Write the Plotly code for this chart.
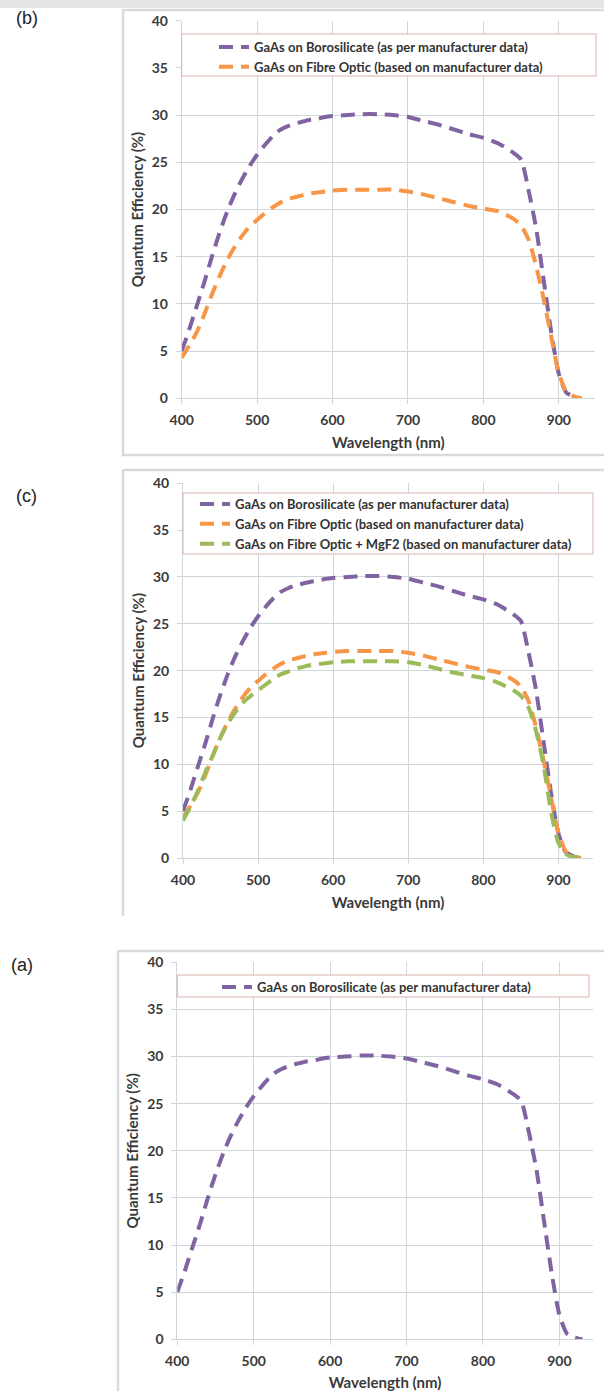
import plotly.graph_objects as go

# ---------------- data ----------------
wavelength = [400, 410, 420, 430, 440, 450, 460, 470, 480, 490, 500, 510, 520, 530, 540,
              550, 560, 570, 580, 590, 600, 620, 640, 660, 680, 700, 720, 740, 760, 780,
              800, 820, 840, 850, 860, 870, 880, 890, 900, 910, 920, 930]

qe_borosilicate = [5.0, 7.3, 9.8, 12.3, 15.0, 17.5, 19.7, 21.6, 23.2, 24.6, 25.8, 26.8, 27.7, 28.4, 28.8,
                   29.1, 29.3, 29.5, 29.6, 29.8, 29.9, 30.0, 30.1, 30.1, 30.0, 29.8, 29.4, 29.0, 28.5, 28.0,
                   27.6, 27.0, 26.0, 25.3, 22.0, 18.0, 12.5, 7.0, 2.6, 0.6, 0.2, 0.0]

qe_fibre = [4.3, 5.6, 7.0, 8.9, 11.0, 12.9, 14.6, 16.0, 17.2, 18.2, 18.9, 19.6, 20.2, 20.7, 21.1,
            21.3, 21.5, 21.7, 21.8, 21.9, 22.0, 22.1, 22.1, 22.1, 22.1, 21.9, 21.6, 21.2, 20.8, 20.4,
            20.1, 19.8, 19.0, 18.3, 16.8, 14.0, 10.5, 6.5, 2.7, 0.7, 0.2, 0.0]

qe_fibre_mgf2 = [4.0, 5.5, 7.2, 9.2, 11.0, 12.9, 14.4, 15.6, 16.6, 17.3, 17.9, 18.5, 19.1, 19.6, 19.9,
                 20.2, 20.4, 20.6, 20.7, 20.8, 20.9, 21.0, 21.0, 21.0, 21.0, 20.9, 20.6, 20.2, 19.8, 19.5,
                 19.2, 18.7, 17.9, 17.3, 16.1, 13.6, 10.0, 5.0, 1.6, 0.4, 0.1, 0.0]

name_boro = "GaAs on Borosilicate (as per manufacturer data)"
name_fibre = "GaAs on Fibre Optic (based on manufacturer data)"
name_mgf2 = "GaAs on Fibre Optic + MgF2 (based on manufacturer data)"

x_ticks = [400, 500, 600, 700, 800, 900]
y_ticks = [0, 5, 10, 15, 20, 25, 30, 35, 40]

# ---------------- styling ----------------
W, H = 604, 1391
PURPLE = "#8064A2"
ORANGE = "#F79646"
GREEN = "#9BBB59"
GRID = "#cfd6da"
FRAME = "#dadada"
LEGBOX = "#d9b3ab"
TXT = "#3a3a3a"
FONT = "Lato"
DASH = "14px,8px"
LW = 4


def px(x):
    return x / W


def py(y):
    return 1 - y / H


fig = go.Figure()

panels = [
    ("", "legend", [(name_boro, qe_borosilicate, PURPLE), (name_fibre, qe_fibre, ORANGE)]),
    ("2", "legend2", [(name_boro, qe_borosilicate, PURPLE), (name_fibre, qe_fibre, ORANGE),
                      (name_mgf2, qe_fibre_mgf2, GREEN)]),
    ("3", "legend3", [(name_boro, qe_borosilicate, PURPLE)]),
]

for suffix, leg, series in panels:
    for name, vals, col in series:
        fig.add_trace(go.Scatter(
            x=wavelength, y=vals, mode="lines", name=name,
            line=dict(color=col, width=LW, dash=DASH, shape="spline", smoothing=0.6),
            xaxis="x" + suffix, yaxis="y" + suffix, legend=leg,
        ))

# axis geometry (pixels) : (x_left, x_right, xmax, y_top, y_bottom)
geo = {
    "": (181.7, 595.0, 948, 20.7, 398.3),
    "2": (183.0, 593.0, 946, 483.3, 858.0),
    "3": (177.3, 593.0, 944, 962.3, 1339.3),
}

tickfont = dict(family=FONT, size=14, color=TXT, weight="bold")
titlefont = dict(family=FONT, size=15, color=TXT, weight="bold")

layout_axes = {}
for suffix, (xl, xr, xmax, yt, yb) in geo.items():
    layout_axes["xaxis" + suffix] = dict(
        domain=[px(xl), px(xr)], range=[400, xmax], anchor="y" + suffix,
        tickvals=x_ticks, showgrid=True, gridcolor=GRID, gridwidth=1,
        showline=True, linecolor=GRID, linewidth=1, zeroline=False,
        ticks="outside", ticklen=5, tickcolor=GRID, tickfont=tickfont,
        ticklabelstandoff=4,
        title=dict(text="Wavelength (nm)", font=titlefont, standoff=10),
        automargin=False,
    )
    layout_axes["yaxis" + suffix] = dict(
        domain=[py(yb), py(yt)], range=[0, 40], anchor="x" + suffix,
        tickvals=y_ticks, showgrid=True, gridcolor=GRID, gridwidth=1,
        showline=True, linecolor=GRID, linewidth=1, zeroline=False,
        ticks="outside", ticklen=5, tickcolor=GRID, tickfont=tickfont,
        ticklabelstandoff=5,
        title=dict(text="Quantum Efficiency (%)", font=titlefont, standoff=4),
        automargin=False,
    )

legfont = dict(family=FONT, size=13, color="#333333", weight="bold")
common_leg = dict(xanchor="left", yanchor="top", bgcolor="rgba(0,0,0,0)", borderwidth=0,
                  font=legfont, itemwidth=30, tracegroupgap=0, orientation="v")

fig.update_layout(
    width=W, height=H,
    margin=dict(l=0, r=0, t=0, b=0),
    paper_bgcolor="white", plot_bgcolor="white",
    showlegend=True,
    legend=dict(x=px(214), y=py(32), **common_leg),
    legend2=dict(x=px(195), y=py(489), **common_leg),
    legend3=dict(x=px(217), y=py(972), **common_leg),
    **layout_axes,
)

shapes = []
shapes.append(dict(type="rect", xref="paper", yref="paper", x0=0, x1=1, y0=py(8), y1=1,
                   fillcolor="#e6e6e6", line=dict(width=0), layer="below"))
shapes.append(dict(type="rect", xref="paper", yref="paper", x0=px(123), x1=px(610),
                   y0=py(455), y1=py(10), line=dict(color=FRAME, width=2.5), layer="below"))
shapes.append(dict(type="line", xref="paper", yref="paper", x0=px(123), x1=px(123),
                   y0=py(916), y1=py(470), line=dict(color=FRAME, width=2.5), layer="below"))
shapes.append(dict(type="line", xref="paper", yref="paper", x0=px(123), x1=px(610),
                   y0=py(470), y1=py(470), line=dict(color=FRAME, width=2.5), layer="below"))
shapes.append(dict(type="line", xref="paper", yref="paper", x0=px(118), x1=px(118),
                   y0=py(1395), y1=py(951), line=dict(color=FRAME, width=2.5), layer="below"))
shapes.append(dict(type="line", xref="paper", yref="paper", x0=px(118), x1=px(610),
                   y0=py(951), y1=py(951), line=dict(color=FRAME, width=2.5), layer="below"))

for (x0, x1, y0, y1) in [(181.7, 596, 34, 76), (183, 593, 493, 554), (177.3, 589, 975, 997)]:
    shapes.append(dict(type="rect", xref="paper", yref="paper", x0=px(x0), x1=px(x1),
                       y0=py(y1), y1=py(y0), line=dict(color=LEGBOX, width=1),
                       fillcolor="white", layer="above"))

fig.update_layout(shapes=shapes)

for lab, x, y in [("(b)", 27, 18), ("(c)", 26, 496), ("(a)", 22, 965)]:
    fig.add_annotation(text=lab, xref="paper", yref="paper", x=px(x), y=py(y),
                       xanchor="center", yanchor="middle", showarrow=False,
                       font=dict(family="Liberation Sans", size=18, color="#222222"))

fig.write_html("out.html")
